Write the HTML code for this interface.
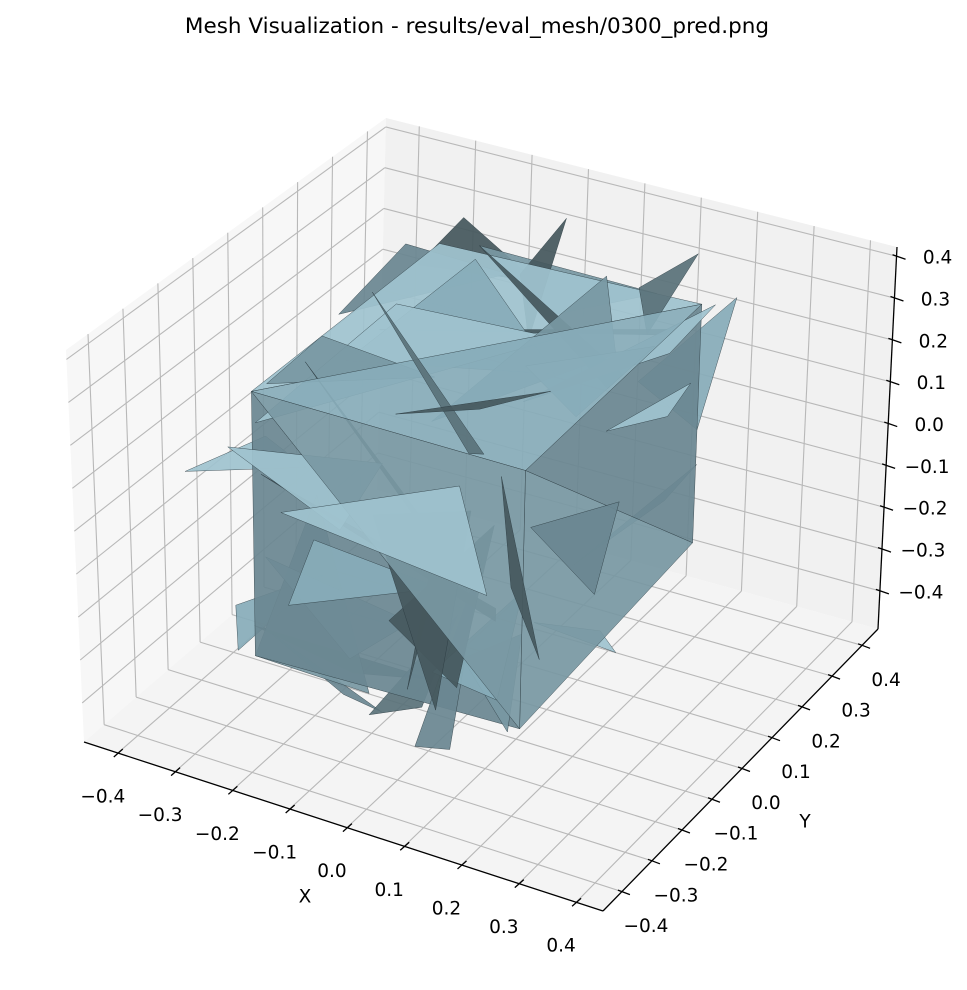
<!DOCTYPE html>
<html><head><meta charset="utf-8"><style>
html,body{margin:0;padding:0;background:#fff;}
svg text{font-family:"DejaVu Sans","Liberation Sans",sans-serif;fill:#000;}
</style></head><body>
<svg id="chart" width="967" height="985" viewBox="0 0 967 985" xmlns="http://www.w3.org/2000/svg">
<rect width="967" height="985" fill="#fff"/>
<text x="477" y="33" font-size="21.5" text-anchor="middle">Mesh Visualization - results/eval_mesh/0300_pred.png</text>
<g id="panes"></g>
<g id="grid"></g>
<g id="mesh"></g>
<g id="axes"></g>
</svg>
<script>
const xTicks = [-0.4,-0.3,-0.2,-0.1,0.0,0.1,0.2,0.3,0.4];
const yTicks = [-0.4,-0.3,-0.2,-0.1,0.0,0.1,0.2,0.3,0.4];
const zTicks = [-0.4,-0.3,-0.2,-0.1,0.0,0.1,0.2,0.3,0.4];
const xTickLabels = ["−0.4","−0.3","−0.2","−0.1","0.0","0.1","0.2","0.3","0.4"];
const yTickLabels = ["−0.4","−0.3","−0.2","−0.1","0.0","0.1","0.2","0.3","0.4"];
const zTickLabels = ["−0.4","−0.3","−0.2","−0.1","0.0","0.1","0.2","0.3","0.4"];
const xLim = [-0.459, 0.447];
const yLim = [-0.463, 0.453];
const zLim = [-0.491, 0.422];
// mesh triangles: x1,y1,z1, x2,y2,z2, x3,y3,z3, shade
const triangles = [
[-0.27,-0.26,0.28, 0.19,-0.26,0.28, 0.19,0.3,0.3, 0],
[-0.27,-0.26,0.28, 0.19,0.3,0.3, -0.27,0.3,0.28, 2],
[-0.27,-0.26,0.28, 0.19,-0.26,0.28, 0.19,-0.26,-0.32, 1],
[-0.27,-0.26,0.28, 0.19,-0.26,-0.32, -0.27,-0.26,-0.34, 3],
[0.19,-0.26,0.28, 0.19,0.3,0.3, 0.19,0.3,-0.27, 3],
[0.19,-0.26,0.28, 0.19,0.3,-0.27, 0.19,-0.26,-0.32, 1],
[-0.1,0.25,0.3, 0.0,0.1,0.28, -0.05,0.3,0.42, 4],
[0.08,0.3,0.3, 0.15,0.2,0.28, 0.17,0.32,0.4, 5],
[-0.2,-0.1,0.28, 0.1,0.0,0.3, -0.15,0.2,0.35, 0],
[-0.27,-0.25,0.2, 0.05,0.1,0.3, -0.2,0.05,0.32, 2],
[0.0,-0.2,0.28, 0.15,0.1,0.3, 0.05,0.25,0.35, 1],
[-0.25,0.2,0.3, -0.1,0.3,0.25, -0.2,0.25,0.4, 4],
[0.1,-0.1,0.3, 0.19,0.2,0.25, 0.24,0.25,0.35, 2],
[-0.05,-0.22,0.29, 0.12,-0.05,0.3, 0.08,-0.2,0.34, 4],
[-0.3,-0.28,0.15, -0.05,-0.26,0.2, -0.1,-0.3,0.05, 2],
[-0.45,-0.15,-0.05, -0.27,-0.22,0.15, -0.27,-0.1,0.0, 2],
[-0.27,-0.26,-0.34, -0.15,-0.28,0.1, -0.05,-0.3,-0.31, 1],
[-0.2,-0.28,-0.18, 0.05,-0.26,-0.05, -0.15,-0.29,0.0, 0],
[-0.05,-0.3,-0.36, 0.08,-0.26,-0.1, 0.02,-0.26,-0.34, 5],
[0.0,-0.33,-0.1, 0.15,-0.28,0.15, 0.08,-0.26,-0.27, 4],
[0.03,-0.3,-0.4, 0.12,-0.26,0.05, 0.08,-0.28,-0.4, 3],
[0.08,-0.34,-0.18, 0.19,-0.26,0.0, 0.15,-0.26,-0.27, 0],
[-0.25,-0.26,-0.1, 0.0,-0.26,-0.15, -0.1,-0.27,-0.27, 2],
[-0.2,-0.3,0.05, 0.08,-0.26,0.2, 0.15,-0.3,0.0, 2],
[-0.1,-0.26,-0.31, 0.05,-0.28,-0.25, -0.27,-0.26,-0.27, 5],
[0.1,-0.28,-0.18, 0.19,-0.26,-0.1, 0.19,-0.3,-0.3, 1],
[-0.05,-0.29,0.1, 0.06,-0.29,-0.31, 0.1,-0.26,0.15, 4],
[0.19,0.0,0.2, 0.28,0.1,0.28, 0.19,0.2,0.1, 2],
[0.19,-0.1,-0.05, 0.27,0.15,0.05, 0.19,0.2,-0.1, 1],
[0.19,0.1,0.25, 0.19,0.3,0.0, 0.24,0.32,0.32, 0],
[0.17,-0.2,0.1, 0.23,-0.1,-0.1, 0.19,0.05,0.0, 3],
[0.19,-0.22,-0.1, 0.27,-0.1,-0.22, 0.19,0.0,-0.27, 2],
[0.15,-0.26,0.25, 0.19,-0.2,-0.2, 0.17,-0.26,0.0, 4],
[-0.2,0.3,0.3, 0.1,0.32,0.28, 0.0,0.15,0.3, 1],
[-0.27,0.0,0.3, -0.15,0.3,0.25, -0.3,0.25,0.3, 3],
[0.05,0.0,0.3, 0.19,-0.1,0.3, 0.19,0.15,0.3, 0],
[-0.25,-0.25,0.3, -0.05,-0.1,0.3, -0.27,-0.05,0.28, 1],
[-0.3,-0.26,-0.34, -0.15,-0.26,-0.1, -0.28,-0.3,-0.2, 0],
[-0.27,-0.25,-0.27, -0.1,-0.29,-0.34, -0.05,-0.26,-0.38, 3],
[-0.25,-0.27,0.1, 0.15,-0.27,-0.05, 0.15,-0.27,-0.08, 4],
[-0.2,0.0,0.29, 0.18,0.2,0.29, 0.18,0.22,0.29, 4],
[-0.27,-0.1,0.25, 0.1,-0.27,0.0, 0.1,-0.27,-0.03, 4],
[0.0,-0.27,-0.3, 0.05,-0.27,0.1, 0.07,-0.27,0.1, 4],
[-0.27,0.1,0.29, 0.1,-0.27,0.29, 0.12,-0.26,0.29, 5],
[-0.2,0.3,0.3, 0.19,0.0,0.3, 0.19,0.05,0.3, 4]
];
const shadeColors = ['#88acb9','#7898a3','#9fc3cf','#6b8791','#46585e','#5a727a'];

const C = {
 c000:[84,742], c001:[66,350], c010:[377,490], c011:[386,118],
 c100:[603,911], c101:[620,512], c110:[878,629], c111:[897,247]
};
function lerp(a,b,t){return [a[0]+(b[0]-a[0])*t, a[1]+(b[1]-a[1])*t];}
function proj(x,y,z){
  const u=(x-xLim[0])/(xLim[1]-xLim[0]), v=(y-yLim[0])/(yLim[1]-yLim[0]), w=(z-zLim[0])/(zLim[1]-zLim[0]);
  const b=lerp(lerp(C.c000,C.c100,u), lerp(C.c010,C.c110,u), v);
  const t=lerp(lerp(C.c001,C.c101,u), lerp(C.c011,C.c111,u), v);
  return lerp(b,t,w);
}
const NS='http://www.w3.org/2000/svg';
function mk(tag, attrs, parent){const e=document.createElementNS(NS,tag);for(const k in attrs)e.setAttribute(k,attrs[k]);parent.appendChild(e);return e;}
function pts(arr){return arr.map(p=>p[0].toFixed(1)+','+p[1].toFixed(1)).join(' ');}

const panes=document.getElementById('panes');
const [x0,x1]=xLim,[y0,y1]=yLim,[z0,z1]=zLim;
let p;
p=mk('polygon',{points:pts([proj(x0,y0,z0),proj(x0,y1,z0),proj(x0,y1,z1),proj(x0,y0,z1)]),fill:'#f7f7f7'},panes);


p=mk('polygon',{points:pts([proj(x0,y1,z0),proj(x1,y1,z0),proj(x1,y1,z1),proj(x0,y1,z1)]),fill:'#f1f1f1'},panes);


p=mk('polygon',{points:pts([proj(x0,y0,z0),proj(x1,y0,z0),proj(x1,y1,z0),proj(x0,y1,z0)]),fill:'#f4f4f4'},panes);



const grid=document.getElementById('grid');
function gl(a,b,name){const q=mk('line',{x1:a[0],y1:a[1],x2:b[0],y2:b[1],stroke:'#b8b8b8','stroke-width':1.1},grid);

}
xTicks.forEach(t=>{gl(proj(t,y0,z0),proj(t,y1,z0),'floor-grid-x');gl(proj(t,y1,z0),proj(t,y1,z1),'back-grid-x');});
yTicks.forEach(t=>{gl(proj(x0,t,z0),proj(x1,t,z0),'floor-grid-y');gl(proj(x0,t,z0),proj(x0,t,z1),'left-grid-y');});
zTicks.forEach(t=>{gl(proj(x0,y0,t),proj(x0,y1,t),'left-grid-z');gl(proj(x0,y1,t),proj(x1,y1,t),'back-grid-z');});

const mesh=document.getElementById('mesh');
const order=triangles.map((t,i)=>{const cx=(t[0]+t[3]+t[6])/3,cy=(t[1]+t[4]+t[7])/3,cz=(t[2]+t[5]+t[8])/3;return {i,d:0.433*cx-0.75*cy+0.5*cz};}).sort((a,b)=>a.d-b.d);
order.forEach(o=>{const t=triangles[o.i];
  const tri=mk('polygon',{points:pts([proj(t[0],t[1],t[2]),proj(t[3],t[4],t[5]),proj(t[6],t[7],t[8])]),fill:shadeColors[t[9]],'fill-opacity':0.93,stroke:'#2b3a40','stroke-width':0.5,'stroke-opacity':0.8,'stroke-linejoin':'round'},mesh);
  
  
});

const axes=document.getElementById('axes');
function axLine(a,b,name){const q=mk('line',{x1:a[0],y1:a[1],x2:b[0],y2:b[1],stroke:'#000','stroke-width':1.3},axes);

}
function txt(x,y,s,name,anchor){const q=mk('text',{x:x,y:y,'font-size':18.5,'text-anchor':anchor||'middle','dominant-baseline':'central'},axes);q.textContent=s;

}
axLine(proj(x0,y0,z0),proj(x1,y0,z0),'x-axis-line');
axLine(proj(x1,y0,z0),proj(x1,y1,z0),'y-axis-line');
axLine(proj(x1,y1,z0),proj(x1,y1,z1),'z-axis-line');
xTicks.forEach((t,i)=>{const P=proj(t,y0,z0);
  axLine([P[0]-4,P[1]+4],[P[0]+5,P[1]-4],'x-tick');
  txt(P[0]-15,P[1]+44,xTickLabels[i],'x-tick-label');});
yTicks.forEach((t,i)=>{const P=proj(x1,t,z0);
  axLine([P[0]-4,P[1]-1.5],[P[0]+8,P[1]+3],'y-tick');
  txt(P[0]+24,P[1]+35,yTickLabels[i],'y-tick-label');});
zTicks.forEach((t,i)=>{const P=proj(x1,y1,t);
  axLine([P[0]-4,P[1]-1.5],[P[0]+9,P[1]+3],'z-tick');
  txt(P[0]+41,P[1]+2,zTickLabels[i],'z-tick-label');});
txt(305,897,'X','x-axis-title');
txt(805,822,'Y','y-axis-title');
</script>
</body></html>
